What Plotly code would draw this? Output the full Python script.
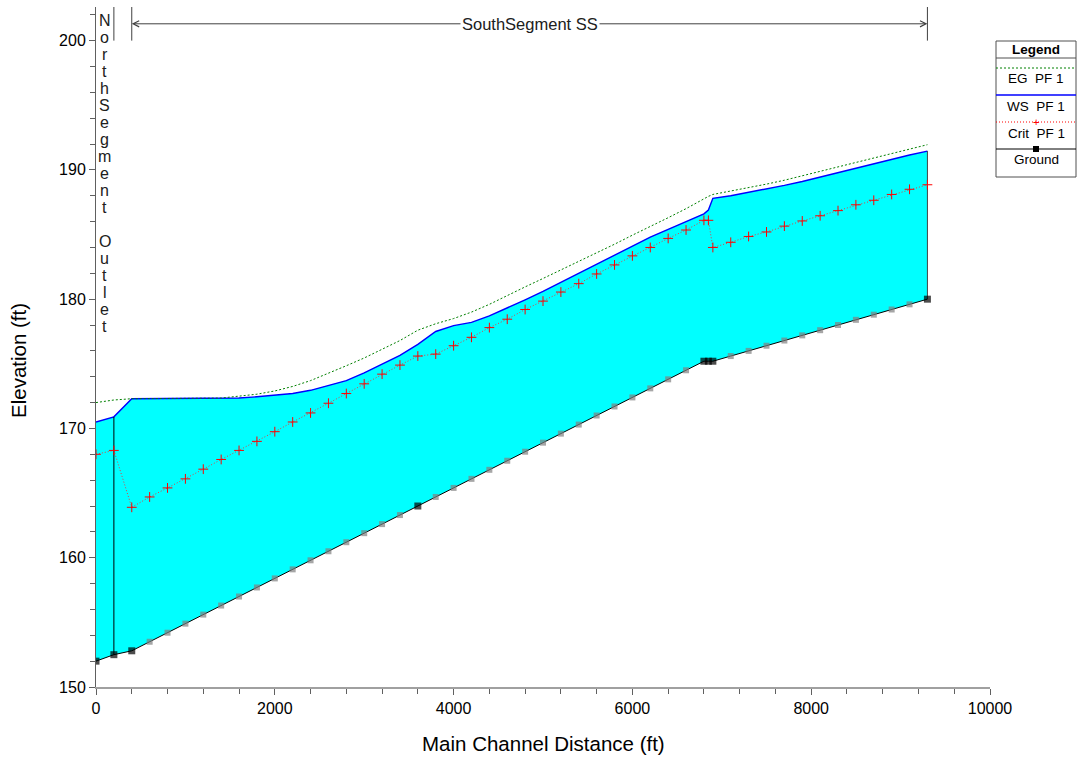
import plotly.graph_objects as go

# ---------------- data ----------------
stations = [0, 200, 400, 600, 800, 1000, 1200, 1400, 1600, 1800, 2000, 2200, 2400, 2600, 2800,
            3000, 3200, 3400, 3600, 3800, 4000, 4200, 4400, 4600, 4800, 5000, 5200, 5400, 5600,
            5800, 6000, 6200, 6400, 6600, 6800, 6850, 6900, 7100, 7300, 7500, 7700, 7900, 8100,
            8300, 8500, 8700, 8900, 9100, 9300]

ground = [152.0, 152.5, 152.8, 153.5, 154.2, 154.9, 155.6, 156.3, 157.0, 157.7, 158.4, 159.1,
          159.8, 160.5, 161.2, 161.9, 162.6, 163.3, 164.0, 164.7, 165.4, 166.1, 166.8, 167.5,
          168.2, 168.9, 169.6, 170.3, 171.0, 171.7, 172.4, 173.1, 173.8, 174.5, 175.2, 175.2,
          175.2, 175.6, 176.0, 176.4, 176.8, 177.2, 177.6, 178.0, 178.4, 178.8, 179.2, 179.6, 180.0]

ws = [170.5, 170.9, 172.3, 172.3, 172.3, 172.3, 172.3, 172.3, 172.35, 172.45, 172.55, 172.7,
      172.95, 173.3, 173.7, 174.3, 174.95, 175.65, 176.5, 177.5, 177.95, 178.2, 178.7, 179.3,
      179.95, 180.6, 181.3, 182.0, 182.7, 183.4, 184.1, 184.8, 185.4, 186.0, 186.6, 186.9,
      187.8, 188.0, 188.25, 188.5, 188.8, 189.1, 189.45, 189.8, 190.15, 190.5, 190.85, 191.15, 191.45]

eg = [172.0, 172.2, 172.3, 172.3, 172.3, 172.3, 172.3, 172.35, 172.5, 172.65, 172.9, 173.25,
      173.7, 174.25, 174.85, 175.45, 176.1, 176.8, 177.6, 178.1, 178.5, 179.0, 179.6, 180.3,
      180.95, 181.6, 182.25, 182.9, 183.6, 184.25, 184.95, 185.6, 186.3, 187.0, 187.8, 187.95,
      188.1, 188.35, 188.6, 188.9, 189.2, 189.55, 189.9, 190.25, 190.6, 190.95, 191.3, 191.6, 191.95]

crit = [168.0, 168.3, 163.9, 164.7, 165.4, 166.1, 166.85, 167.6, 168.3, 169.0, 169.75, 170.5,
        171.2, 171.95, 172.7, 173.45, 174.2, 174.9, 175.6, 175.75, 176.4, 177.05, 177.8, 178.45,
        179.2, 179.85, 180.55, 181.2, 181.95, 182.65, 183.35, 184.0, 184.7, 185.35, 186.1, 186.1,
        184.0, 184.4, 184.85, 185.2, 185.65, 186.05, 186.45, 186.85, 187.3, 187.65, 188.1, 188.5, 188.85]

# surveyed (black) vs interpolated (grey) cross sections
surveyed = [0, 200, 400, 3600, 6800, 6850, 6900, 9300]

reach_north = "NorthSegment Outlet"
reach_south = "SouthSegment SS"
legend_items = ["EG&nbsp;&nbsp;PF 1", "WS&nbsp;&nbsp;PF 1", "Crit&nbsp;&nbsp;PF 1", "Ground"]

x_ticks = [0, 2000, 4000, 6000, 8000, 10000]
y_ticks = [150, 160, 170, 180, 190, 200]

# ---------------- layout geometry (pixels) ----------------
W, H = 1078, 757
L, R, T, B = 96, 990, 7, 687
Y_TOP = 202.6


def px_x(p):
    return (p - L) / (R - L)


def px_y(p):
    return (B - p) / (B - T)


FONT = "Liberation Sans, Arial, sans-serif"

fig = go.Figure()

# invisible ground for fill base
fig.add_trace(go.Scatter(x=stations, y=ground, mode="lines", line=dict(width=0),
                         showlegend=False, hoverinfo="skip"))
# water surface with cyan fill to ground
fig.add_trace(go.Scatter(x=stations, y=ws, mode="lines", fill="tonexty", fillcolor="#00FFFF",
                         line=dict(color="#0000FF", width=1.4), showlegend=False))

# vertical section lines at junction and at the upstream end
fig.add_trace(go.Scatter(x=[stations[1], stations[1]], y=[ground[1], ws[1]], mode="lines",
                         line=dict(color="#000000", width=1), showlegend=False, hoverinfo="skip"))
fig.add_trace(go.Scatter(x=[stations[-1], stations[-1]], y=[ground[-1], ws[-1]], mode="lines",
                         line=dict(color="#404040", width=1), showlegend=False, hoverinfo="skip"))

# energy grade
fig.add_trace(go.Scatter(x=stations, y=eg, mode="lines",
                         line=dict(color="#008000", width=1, dash="2px,2px"), showlegend=False))
# critical depth
fig.add_trace(go.Scatter(x=stations, y=crit, mode="lines+markers",
                         line=dict(color="#E04040", width=1, dash="1px,2px"),
                         marker=dict(symbol="cross-thin", size=7, color="#FF0000",
                                     line=dict(color="#FF0000", width=1)),
                         showlegend=False))
# ground
gcolors = ["#000000" if s in surveyed else "#808080" for s in stations]
gsizes = [7 if s in surveyed else 6 for s in stations]
fig.add_trace(go.Scatter(x=stations, y=ground, mode="lines+markers",
                         line=dict(color="#000000", width=1),
                         marker=dict(symbol="square", size=gsizes, color=gcolors, line=dict(width=0)),
                         showlegend=False))

shapes = []
annotations = []

# reach boundary marks at top
for s in [stations[1], stations[2], stations[-1]]:
    shapes.append(dict(type="line", xref="x", yref="y", x0=s, x1=s, y0=200, y1=Y_TOP,
                       line=dict(color="#404040", width=1)))

mid = (stations[2] + stations[-1]) / 2
y_arrow = 201.3
for end in [stations[2], stations[-1]]:
    annotations.append(dict(x=end, y=y_arrow, ax=mid, ay=y_arrow, xref="x", yref="y",
                            axref="x", ayref="y", text="", showarrow=True, arrowhead=5,
                            arrowsize=1.2, arrowwidth=1, arrowcolor="#404040"))
annotations.append(dict(x=mid, y=y_arrow, xref="x", yref="y", text=reach_south, showarrow=False,
                        xanchor="center", yanchor="middle",
                        bgcolor="white", font=dict(family=FONT, size=16.5, color="#202020"),
                        borderpad=1))

# vertical stacked north reach label (one letter per row)
xn = (stations[0] + stations[1]) / 2
for i, ch in enumerate(reach_north):
    if ch == " ":
        continue
    annotations.append(dict(x=xn, y=px_y(20 + 17.05 * i), xref="x", yref="paper",
                            xanchor="center", yanchor="middle", text=ch, showarrow=False,
                            font=dict(family=FONT, size=16, color="#202020")))

# axis titles
annotations.append(dict(x=0.5, y=px_y(743), xref="paper", yref="paper", text="Main Channel Distance (ft)",
                        xanchor="center", yanchor="middle",
                        showarrow=False, font=dict(family=FONT, size=20.5, color="#000000")))
annotations.append(dict(x=px_x(19), y=px_y(361), xref="paper", yref="paper", text="Elevation (ft)",
                        xanchor="center", yanchor="middle",
                        textangle=-90, showarrow=False, font=dict(family=FONT, size=20.5, color="#000000")))

# ---------------- custom legend box ----------------
lx0, lx1, ly0, ly1 = 996, 1076, 41, 177
shapes.append(dict(type="rect", xref="paper", yref="paper", x0=px_x(lx0), x1=px_x(lx1),
                   y0=px_y(ly1), y1=px_y(ly0), line=dict(color="#505050", width=1), fillcolor="white"))
shapes.append(dict(type="line", xref="paper", yref="paper", x0=px_x(lx0), x1=px_x(lx1),
                   y0=px_y(58), y1=px_y(58), line=dict(color="#505050", width=1)))
cx = (lx0 + lx1) / 2
annotations.append(dict(x=px_x(cx), y=px_y(49), xref="paper", yref="paper",
                        xanchor="center", yanchor="middle",
                        text="<b>Legend</b>", showarrow=False,
                        font=dict(family=FONT, size=13.5, color="#000000")))
leg_styles = [dict(color="#008000", width=1, dash="2px,2px"),
              dict(color="#0000FF", width=1.4),
              dict(color="#FF0000", width=1, dash="1px,2px"),
              dict(color="#000000", width=1)]
for i, (name, st) in enumerate(zip(legend_items, leg_styles)):
    yl = 68 + 27 * i
    yt = 79 + 27 * i
    shapes.append(dict(type="line", xref="paper", yref="paper", x0=px_x(lx0), x1=px_x(lx1),
                       y0=px_y(yl), y1=px_y(yl), line=st))
    annotations.append(dict(x=px_x(cx), y=px_y(yt), xref="paper", yref="paper", text=name,
                            xanchor="center", yanchor="middle",
                            showarrow=False, font=dict(family=FONT, size=13.5, color="#000000")))
# legend markers
annotations.append(dict(x=px_x(cx), y=px_y(68 + 27 * 2), xref="paper", yref="paper", text="+",
                        xanchor="center", yanchor="middle",
                        showarrow=False, font=dict(family=FONT, size=11, color="#FF0000")))
shapes.append(dict(type="rect", xref="paper", yref="paper", x0=px_x(cx - 3), x1=px_x(cx + 3),
                   y0=px_y(68 + 27 * 3 + 3), y1=px_y(68 + 27 * 3 - 3),
                   line=dict(width=0), fillcolor="#000000"))

fig.update_layout(
    width=W, height=H, autosize=False,
    margin=dict(l=L, r=W - R, t=T, b=H - B, pad=0),
    paper_bgcolor="white", plot_bgcolor="white",
    showlegend=False,
    font=dict(family=FONT, size=16, color="#000000"),
    shapes=shapes, annotations=annotations,
    xaxis=dict(range=[0, 10000], tickvals=x_ticks, ticktext=[str(v) for v in x_ticks],
               showgrid=False, zeroline=False, showline=True, linecolor="#A0A0A0", linewidth=2,
               ticks="outside", ticklen=6, tickcolor="#606060", tickwidth=1, automargin=False,
               tickfont=dict(family=FONT, size=16, color="#000000"),
               minor=dict(dtick=400, tick0=0, ticks="outside", ticklen=5, tickcolor="#606060",
                          showgrid=False)),
    yaxis=dict(range=[150, Y_TOP], tickvals=y_ticks, ticktext=[str(v) for v in y_ticks],
               showgrid=False, zeroline=False, showline=True, linecolor="#606060", linewidth=1,
               ticks="outside", ticklen=6, tickcolor="#606060", tickwidth=1, automargin=False,
               tickfont=dict(family=FONT, size=16, color="#000000"),
               minor=dict(dtick=2, tick0=150, ticks="outside", ticklen=5, tickcolor="#606060",
                          showgrid=False)),
)

fig.write_html("out.html", config={"displayModeBar": False},
               post_script="document.body.style.margin='0';document.body.style.overflow='hidden';")
